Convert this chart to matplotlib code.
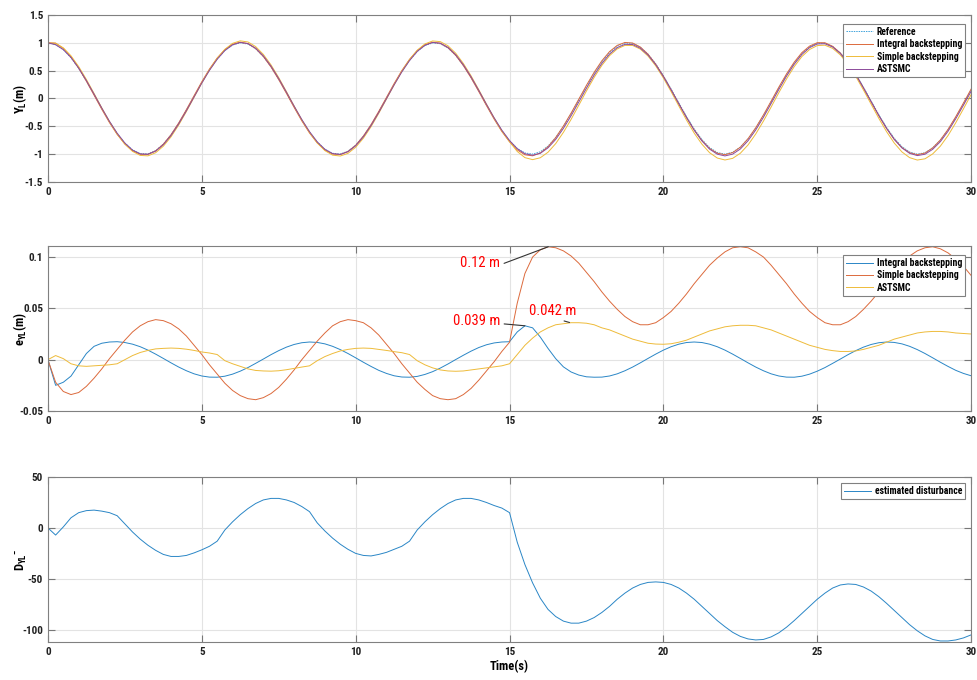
import numpy as np
import matplotlib
matplotlib.use("Agg")
import matplotlib.pyplot as plt
from matplotlib import font_manager

# prefer a condensed face when one is available
names = {f.name for f in font_manager.fontManager.ttflist}
narrow = [n for n in ('Liberation Sans Narrow', 'Arial Narrow', 'Roboto Condensed',
                      'Open Sans Condensed', 'DejaVu Sans Condensed') if n in names]
plt.rcParams['font.family'] = narrow + ['DejaVu Sans']
plt.rcParams['font.stretch'] = 'condensed'
plt.rcParams['font.weight'] = 'bold'
plt.rcParams['mathtext.default'] = 'regular'

# sample time, 0.25 s step
t = np.arange(121) * 0.25

# reference trajectory Y_L (m)
y_ref = [1.000, 0.969, 0.878, 0.732, 0.540, 0.315, 0.071, -0.178, -0.416, -0.628,
         -0.801, -0.924, -0.990, -0.994, -0.936, -0.820, -0.654, -0.446, -0.211, 0.037,
         0.284, 0.512, 0.709, 0.861, 0.960, 1.000, 0.977, 0.893, 0.754, 0.569,
         0.347, 0.104, -0.146, -0.386, -0.602, -0.780, -0.911, -0.985, -0.997, -0.947,
         -0.839, -0.678, -0.476, -0.243, 0.004, 0.252, 0.484, 0.685, 0.844, 0.950,
         0.998, 0.983, 0.907, 0.775, 0.594, 0.378, 0.137, -0.113, -0.355, -0.576,
         -0.760, -0.897, -0.979, -0.999, -0.958, -0.856, -0.702, -0.503, -0.275, -0.028,
         0.220, 0.454, 0.660, 0.826, 0.940, 0.995, 0.989, 0.921, 0.796, 0.622,
         0.408, 0.170, -0.079, -0.323, -0.548, -0.737, -0.882, -0.971, -1.000, -0.967,
         -0.874, -0.726, -0.533, -0.307, -0.062, 0.187, 0.424, 0.635, 0.808, 0.927,
         0.991, 0.993, 0.933, 0.816, 0.647, 0.439, 0.202, -0.046, -0.292, -0.519,
         -0.715, -0.866, -0.962, -1.000, -0.975, -0.886, -0.748, -0.561, -0.338, -0.095,
         0.154]

# tracking errors e_YL (m)
e_integral = [0.000, -0.025, -0.022, -0.016, -0.005, 0.006, 0.013, 0.016, 0.0172, 0.0175,
              0.0167, 0.0151, 0.0126, 0.0093, 0.0054, 0.0012, -0.0031, -0.0072, -0.0108, -0.0138,
              -0.0159, -0.0170, -0.0171, -0.0161, -0.0141, -0.0112, -0.0077, -0.0036, 0.0006, 0.0049,
              0.0088, 0.0122, 0.0148, 0.0165, 0.0172, 0.0168, 0.0154, 0.0130, 0.0098, 0.0060,
              0.0018, -0.0025, -0.0066, -0.0104, -0.0134, -0.0157, -0.0169, -0.0171, -0.0163, -0.0144,
              -0.0117, -0.0082, -0.0042, 0.0001, 0.0043, 0.0083, 0.0118, 0.0145, 0.0163, 0.0172,
              0.0175, 0.027, 0.033, 0.031, 0.022, 0.011, 0.001, -0.007, -0.012, -0.015,
              -0.0167, -0.0171, -0.0170, -0.0159, -0.0138, -0.0108, -0.0072, -0.0031, 0.0012, 0.0054,
              0.0093, 0.0126, 0.0151, 0.0167, 0.0172, 0.0167, 0.0151, 0.0126, 0.0093, 0.0054,
              0.0012, -0.0031, -0.0072, -0.0108, -0.0138, -0.0159, -0.0170, -0.0171, -0.0161, -0.0141,
              -0.0112, -0.0077, -0.0036, 0.0006, 0.0049, 0.0088, 0.0122, 0.0148, 0.0165, 0.0172,
              0.0168, 0.0154, 0.0130, 0.0098, 0.0060, 0.0018, -0.0025, -0.0066, -0.0104, -0.0134,
              -0.0157]

e_simple = [0.000, -0.022, -0.031, -0.034, -0.032, -0.026, -0.018, -0.009, 0.001, 0.010,
            0.019, 0.027, 0.033, 0.037, 0.039, 0.038, 0.035, 0.030, 0.023, 0.014,
            0.005, -0.005, -0.014, -0.023, -0.030, -0.035, -0.038, -0.039, -0.037, -0.033,
            -0.027, -0.019, -0.010, 0.000, 0.009, 0.018, 0.026, 0.033, 0.037, 0.039,
            0.038, 0.036, 0.031, 0.024, 0.015, 0.006, -0.004, -0.013, -0.022, -0.029,
            -0.035, -0.038, -0.039, -0.038, -0.034, -0.028, -0.020, -0.011, -0.002, 0.008,
            0.017, 0.055, 0.084, 0.100, 0.107, 0.110, 0.109, 0.106, 0.101, 0.094,
            0.085, 0.076, 0.066, 0.057, 0.049, 0.042, 0.037, 0.034, 0.034, 0.036,
            0.041, 0.047, 0.055, 0.064, 0.074, 0.083, 0.092, 0.099, 0.105, 0.109,
            0.110, 0.109, 0.105, 0.100, 0.092, 0.083, 0.074, 0.064, 0.055, 0.047,
            0.041, 0.036, 0.034, 0.034, 0.037, 0.042, 0.049, 0.057, 0.066, 0.076,
            0.085, 0.094, 0.101, 0.106, 0.109, 0.110, 0.108, 0.104, 0.098, 0.091,
            0.082]

e_astsmc = [0.000, 0.004, 0.001, -0.004, -0.006, -0.0065, -0.006, -0.0055, -0.005, -0.004,
            0.000, 0.004, 0.007, 0.009, 0.0105, 0.011, 0.0113, 0.011, 0.0102, 0.009,
            0.0075, 0.0065, 0.005, -0.001, -0.004, -0.0065, -0.009, -0.0105, -0.011, -0.0112,
            -0.0108, -0.0098, -0.0085, -0.0072, -0.006, -0.001, 0.003, 0.006, 0.0085, 0.010,
            0.011, 0.0113, 0.011, 0.010, 0.009, 0.0078, 0.0068, 0.005, -0.001, -0.005,
            -0.008, -0.010, -0.011, -0.0113, -0.011, -0.010, -0.009, -0.008, -0.007, -0.006,
            -0.004, 0.005, 0.014, 0.021, 0.027, 0.031, 0.034, 0.035, 0.036, 0.036,
            0.0355, 0.034, 0.031, 0.029, 0.026, 0.023, 0.020, 0.018, 0.016, 0.0152,
            0.015, 0.0155, 0.017, 0.019, 0.022, 0.025, 0.028, 0.030, 0.032, 0.033,
            0.0335, 0.0335, 0.033, 0.031, 0.029, 0.026, 0.023, 0.020, 0.017, 0.014,
            0.012, 0.010, 0.0088, 0.008, 0.008, 0.0085, 0.010, 0.012, 0.014, 0.017,
            0.020, 0.022, 0.024, 0.026, 0.027, 0.0275, 0.0275, 0.027, 0.026, 0.0255,
            0.025]

# estimated disturbance
d_est = [0, -7, 1, 10, 15, 17, 17.5, 16.5, 15, 12,
         4, -4, -11, -17, -22, -26, -28, -28, -27, -24.5,
         -21.5, -18, -13, -2, 6, 13, 19, 24, 27.5, 29,
         29, 27.5, 25, 21, 16, 5, -3, -10, -16, -21,
         -25, -27, -27.5, -26, -24, -21, -18, -13, -2, 6,
         13, 19, 24, 27.5, 29, 29, 27.5, 25, 22, 19.5,
         15, -14, -36, -54, -69, -80, -87, -91.5, -93.5, -93.5,
         -91.5, -88, -83, -77, -70, -64, -59, -55.5, -53.5, -53,
         -53.5, -55.5, -59, -64, -70, -77, -84, -91, -97, -102.5,
         -106.5, -109, -110, -109.5, -107, -103, -97.5, -91, -84, -77,
         -70, -64, -59, -56, -55, -55.5, -58, -62, -67.5, -74,
         -81, -88, -95, -101, -106, -109.5, -111, -111, -110, -108,
         -105]

y_ref = np.array(y_ref)
y_integral = y_ref - np.array(e_integral)
y_simple = y_ref - np.array(e_simple)
y_astsmc = y_ref - np.array(e_astsmc)

blue = '#2a86c6'
orange = '#dc6a3c'
yellow = '#eebb3a'
purple = '#8c4a9a'
lw = 0.7

fig = plt.figure(figsize=(9.78, 6.8), dpi=100)
ax1 = fig.add_axes([0.049, 0.7324, 0.944, 0.2456])
ax2 = fig.add_axes([0.049, 0.3956, 0.944, 0.2426])
ax3 = fig.add_axes([0.049, 0.0559, 0.944, 0.2426])


def style(ax):
    ax.set_xlim(0, 30)
    ax.set_xticks([0, 5, 10, 15, 20, 25, 30])
    ax.set_xticklabels(['0', '5', '10', '15', '20', '25', '30'])
    ax.grid(True, color='#e3e3e3', lw=0.8)
    ax.set_axisbelow(True)
    ax.tick_params(direction='in', length=5, width=0.8, colors='#777777',
                   labelcolor='#222222', labelsize=8, top=True, right=True)
    for s in ax.spines.values():
        s.set_color('#808080')
        s.set_linewidth(0.8)


# top panel: lateral position
ax1.plot(t, y_ref, color='#3fa3dc', lw=lw, ls=(0, (1.5, 1)), label='Reference')
ax1.plot(t, y_integral, color=orange, lw=lw, label='Integral backstepping')
ax1.plot(t, y_simple, color=yellow, lw=lw, label='Simple backstepping')
ax1.plot(t, y_astsmc, color=purple, lw=lw, label='ASTSMC')
style(ax1)
ax1.set_ylim(-1.5, 1.5)
ax1.set_yticks([-1.5, -1, -0.5, 0, 0.5, 1, 1.5])
ax1.set_yticklabels(['-1.5', '-1', '-0.5', '0', '0.5', '1', '1.5'])
ax1.set_ylabel('Y$_L$(m)', fontsize=9, fontweight='bold')
ax1.yaxis.set_label_coords(-0.02, 0.5)

# middle panel: tracking error
ax2.plot(t, e_integral, color=blue, lw=lw, label='Integral backstepping')
ax2.plot(t, e_simple, color=orange, lw=lw, label='Simple backstepping')
ax2.plot(t, e_astsmc, color=yellow, lw=lw, label='ASTSMC')
style(ax2)
ax2.set_ylim(-0.05, 0.1107)
ax2.set_yticks([-0.05, 0, 0.05, 0.1])
ax2.set_yticklabels(['-0.05', '0', '0.05', '0.1'])
ax2.set_ylabel('e$_{YL}$(m)', fontsize=9, fontweight='bold')
ax2.yaxis.set_label_coords(-0.02, 0.5)

ann = dict(color='red', fontsize=10.5, fontweight='normal', va='center')
arrow = dict(arrowstyle='-', color='#333333', lw=0.8, shrinkA=1, shrinkB=0)
ax2.annotate('0.12 m', xy=(16.26, 0.110), xytext=(14.69, 0.0937), ha='right',
             arrowprops=dict(arrow, relpos=(1.0, 0.4)), **ann)
ax2.annotate('0.039 m', xy=(15.5, 0.033), xytext=(14.69, 0.0379), ha='right',
             arrowprops=dict(arrow, relpos=(1.0, 0.3)), **ann)
ax2.annotate('0.042 m', xy=(16.95, 0.0362), xytext=(16.41, 0.0476), ha='center',
             arrowprops=dict(arrow, relpos=(0.5, 0.0)), **ann)

# bottom panel: disturbance estimate
ax3.plot(t, d_est, color=blue, lw=lw, label='estimated disturbance')
style(ax3)
ax3.set_ylim(-112, 50)
ax3.set_yticks([-100, -50, 0, 50])
ax3.set_yticklabels(['-100', '-50', '0', '50'])
ax3.set_ylabel('D$_{YL}$$^{-}$', fontsize=9, fontweight='bold')
ax3.yaxis.set_label_coords(-0.02, 0.5)
ax3.set_xlabel('Time(s)', fontsize=9, fontweight='bold', labelpad=2)

leg_kw = dict(loc='upper right', fontsize=7, frameon=True, fancybox=False,
              edgecolor='#808080', framealpha=1, handlelength=2.8,
              borderpad=0.3, labelspacing=0.25, handletextpad=0.4, borderaxespad=0)
for ax, top_px in ((ax1, 9), (ax2, 9), (ax3, 6)):
    h = ax.get_position().height * 680
    leg = ax.legend(bbox_to_anchor=(0.9935, 1 - top_px / h), **leg_kw)
    leg.get_frame().set_linewidth(0.8)
    for txt in leg.get_texts():
        txt.set_fontweight('bold')

fig.savefig('out.png', dpi=100)
